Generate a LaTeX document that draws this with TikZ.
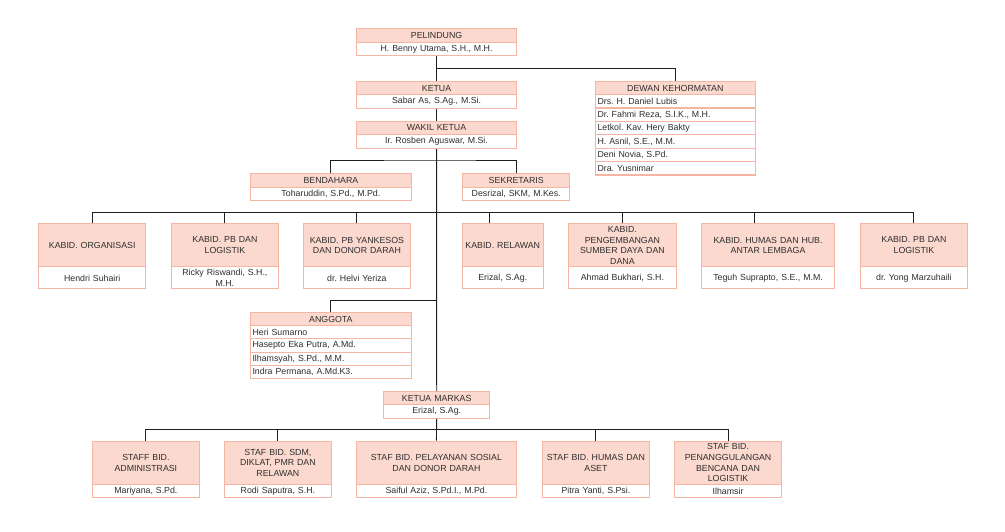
\documentclass[tikz,border=0pt]{standalone}
\usepackage{fontspec}
\setmainfont{Liberation Sans}
\usetikzlibrary{calc}
\frenchspacing
\definecolor{hdrfill}{HTML}{FCD9CE}
\definecolor{boxline}{HTML}{F4B5A2}
\definecolor{txt}{HTML}{2E2E2E}
\newcommand{\onode}[7]{\node[#1, minimum width=#5pt, text width=#5pt-2pt, minimum height=#6pt] (#2) at (#3,#4) {#7};}
\newcommand{\lnode}[6]{\node[lst, minimum width=#4pt, text width=#4pt-2pt, minimum height=#5pt] (#1) at (#2,#3) {\hspace*{1pt}#6};}
\tikzset{
  cellbase/.style={draw=boxline, line width=1.1pt, anchor=north west, inner xsep=1pt, inner ysep=0pt,
    font=\fontsize{8.8}{10.7}\selectfont\frenchspacing, text=txt},
  hdr/.style={cellbase, fill=hdrfill, align=center},
  nam/.style={cellbase, fill=white, align=center},
  lst/.style={cellbase, fill=white, align=left},
  conn/.style={draw=black!88, line width=0.9pt}
}
\begin{document}
\begin{tikzpicture}[x=1pt,y=-1pt]
\fill[white] (0,0) rectangle (1005,531);
\useasboundingbox (0,0) rectangle (1005,531);

% top chain
\onode{hdr}{pelh}{356}{28}{160}{13.7}{PELINDUNG}
\onode{nam}{peln}{356}{41.7}{160}{13.3}{H. Benny Utama, S.H., M.H.}
\onode{hdr}{keth}{356}{81}{160}{13.3}{KETUA}
\onode{nam}{ketn}{356}{94.3}{160}{13.4}{Sabar As, S.Ag., M.Si.}
\onode{hdr}{wakh}{356}{120.7}{160}{13.3}{WAKIL KETUA}
\onode{nam}{wakn}{356}{134}{160}{13.7}{Ir. Rosben Aguswar, M.Si.}

% dewan kehormatan
\onode{hdr}{dewh}{595}{81}{159.5}{13}{DEWAN KEHORMATAN}
\lnode{dew1}{595}{94}{159.5}{13.4}{Drs. H. Daniel Lubis}
\lnode{dew2}{595}{107.4}{159.5}{13.4}{Dr. Fahmi Reza, S.I.K., M.H.}
\lnode{dew3}{595}{120.8}{159.5}{13.4}{Letkol. Kav. Hery Bakty}
\lnode{dew4}{595}{134.2}{159.5}{13.4}{H. Asnil, S.E., M.M.}
\lnode{dew5}{595}{147.6}{159.5}{13.4}{Deni Novia, S.Pd.}
\lnode{dew6}{595}{161}{159.5}{13.4}{Dra. Yusnimar}

% bendahara / sekretaris
\onode{hdr}{benh}{250}{173.3}{160.7}{13.4}{BENDAHARA}
\onode{nam}{benn}{250}{186.7}{160.7}{13.3}{Toharuddin, S.Pd., M.Pd.}
\onode{hdr}{sekh}{462}{173.3}{107.3}{13.4}{SEKRETARIS}
\onode{nam}{sekn}{462}{186.7}{107.3}{13.3}{Desrizal, SKM, M.Kes.}

% kabid row
\onode{hdr}{k1h}{38.3}{223.3}{106.7}{43}{KABID. ORGANISASI}
\onode{nam}{k1n}{38.3}{266.3}{106.7}{22}{Hendri Suhairi}
\onode{hdr}{k2h}{171}{223.3}{106.7}{43}{KABID. PB DAN\\LOGISTIK}
\onode{nam}{k2n}{171}{266.3}{106.7}{22}{Ricky Riswandi, S.H.,\\M.H.}
\onode{hdr}{k3h}{302.7}{223.3}{107.3}{43}{KABID. PB YANKESOS\\DAN DONOR DARAH}
\onode{nam}{k3n}{302.7}{266.3}{107.3}{22}{dr. Helvi Yeriza}
\onode{hdr}{k4h}{461.7}{223.3}{81}{43}{KABID. RELAWAN}
\onode{nam}{k4n}{461.7}{266.3}{81}{22}{Erizal, S.Ag.}
\onode{hdr}{k5h}{568}{223.3}{107.7}{43}{KABID.\\PENGEMBANGAN\\SUMBER DAYA DAN\\DANA}
\onode{nam}{k5n}{568}{266.3}{107.7}{22}{Ahmad Bukhari, S.H.}
\onode{hdr}{k6h}{701}{223.3}{133}{43}{KABID. HUMAS DAN HUB.\\ANTAR LEMBAGA}
\onode{nam}{k6n}{701}{266.3}{133}{22}{Teguh Suprapto, S.E., M.M.}
\onode{hdr}{k7h}{860}{223.3}{106.7}{43}{KABID. PB DAN\\LOGISTIK}
\onode{nam}{k7n}{860}{266.3}{106.7}{22}{dr. Yong Marzuhaili}

% anggota
\onode{hdr}{angh}{250}{312.3}{160.7}{12.7}{ANGGOTA}
\lnode{ang1}{250}{325}{160.7}{13.3}{Heri Sumarno}
\lnode{ang2}{250}{338.3}{160.7}{13.4}{Hasepto Eka Putra, A.Md.}
\lnode{ang3}{250}{351.7}{160.7}{13.3}{Ilhamsyah, S.Pd., M.M.}
\lnode{ang4}{250}{365}{160.7}{13.3}{Indra Permana, A.Md.K3.}

% ketua markas
\onode{hdr}{marh}{383}{391}{106.3}{13.3}{KETUA MARKAS}
\onode{nam}{marn}{383}{404.3}{106.3}{13.4}{Erizal, S.Ag.}

% staff row
\onode{hdr}{s1h}{91.7}{440.7}{107.3}{43.3}{STAFF BID.\\ADMINISTRASI}
\onode{nam}{s1n}{91.7}{484}{107.3}{13.3}{Mariyana, S.Pd.}
\onode{hdr}{s2h}{224}{440.7}{106.7}{43.3}{STAF BID. SDM,\\DIKLAT, PMR DAN\\RELAWAN}
\onode{nam}{s2n}{224}{484}{106.7}{13.3}{Rodi Saputra, S.H.}
\onode{hdr}{s3h}{356}{440.7}{159.7}{43.3}{STAF BID. PELAYANAN SOSIAL\\DAN DONOR DARAH}
\onode{nam}{s3n}{356}{484}{159.7}{13.3}{Saiful Aziz, S.Pd.I., M.Pd.}
\onode{hdr}{s4h}{541.7}{440.7}{107.3}{43.3}{STAF BID. HUMAS DAN\\ASET}
\onode{nam}{s4n}{541.7}{484}{107.3}{13.3}{Pitra Yanti, S.Psi.}
\onode{hdr}{s5h}{674}{440.7}{107}{43.3}{STAF BID.\\PENANGGULANGAN\\BENCANA DAN\\LOGISTIK}
\onode{nam}{s5n}{674}{484}{107}{13.3}{Ilhamsir}

% connectors
\coordinate (b0) at (436,68);
\coordinate (b1) at (436,160);
\coordinate (b2L) at (91.7,212.3);
\coordinate (b2R) at (913.3,212.3);
\coordinate (b3) at (436,300);
\coordinate (b4L) at (145.3,429.3);
\coordinate (b4R) at (727.5,429.3);

\draw[conn] (peln.south) -- (keth.north);
\draw[conn] (b0) -| (dewh.north);
\draw[conn] (ketn.south) -- (wakh.north);
\draw[conn] (wakn.south) -- (marh.north);
\draw[conn] (benh.north) |- (b1) -| (sekh.north);
\draw[conn] (b2L) -- (b2R);
\draw[conn] (k1h.north) -- +(0,-11);
\draw[conn] (k2h.north) -- +(0,-11);
\draw[conn] (k3h.north) -- +(0,-11);
\draw[conn] ($(k4h.north)+(-12.9,0)$) -- +(0,-11);
\draw[conn] (k5h.north) -- +(0,-11);
\draw[conn] ($(k6h.north)+(-13.2,0)$) -- +(0,-11);
\draw[conn] (k7h.north) -- +(0,-11);
\draw[conn] (angh.north) |- (b3);
\draw[conn] (marn.south) -- (s3h.north);
\draw[conn] (b4L) -- (b4R);
\draw[conn] (s1h.north) -- +(0,-11.4);
\draw[conn] (s2h.north) -- +(0,-11.4);
\draw[conn] (s4h.north) -- +(0,-11.4);
\draw[conn] (s5h.north) -- +(0,-11.4);
\end{tikzpicture}
\end{document}
